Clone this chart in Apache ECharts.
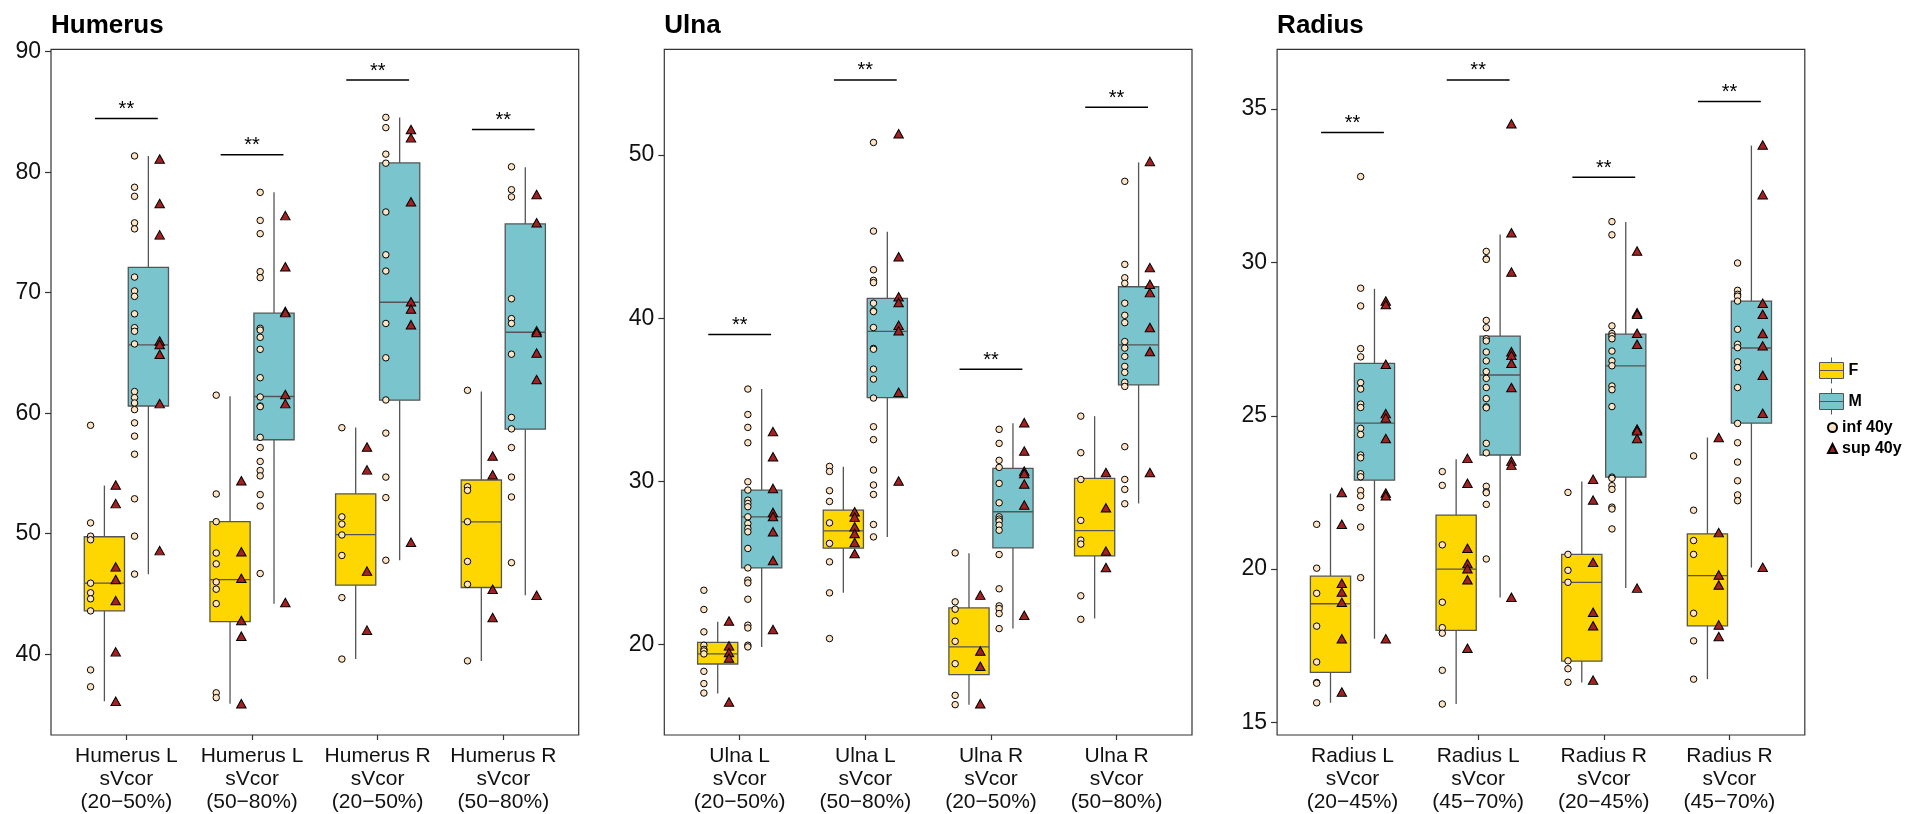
<!DOCTYPE html>
<html><head><meta charset="utf-8">
<script src="https://cdn.jsdelivr.net/npm/echarts@6/dist/echarts.min.js"></script>
<style>html,body{margin:0;padding:0;background:#fff}#c{width:1910px;height:814px}</style>
</head><body><div id="c"></div><script>
// ---------------- DATA ----------------
const humerusCategories = ['Humerus L\nsVcor\n(20−50%)','Humerus L\nsVcor\n(50−80%)','Humerus R\nsVcor\n(20−50%)','Humerus R\nsVcor\n(50−80%)'];
const ulnaCategories = ['Ulna L\nsVcor\n(20−50%)','Ulna L\nsVcor\n(50−80%)','Ulna R\nsVcor\n(20−50%)','Ulna R\nsVcor\n(50−80%)'];
const radiusCategories = ['Radius L\nsVcor\n(20−45%)','Radius L\nsVcor\n(45−70%)','Radius R\nsVcor\n(20−45%)','Radius R\nsVcor\n(45−70%)'];

const humerusTicks = [40,50,60,70,80,90];
const ulnaTicks = [20,30,40,50];
const radiusTicks = [15,20,25,30,35];

// box stats: [lower whisker, Q1, median, Q3, upper whisker]
const humerusBoxF = [[36.1,43.6,45.9,49.75,54.0],[35.9,42.7,46.2,51.0,61.4],[39.6,45.73,49.92,53.31,58.82],[39.45,45.54,50.99,54.46,61.8]];
const humerusBoxM = [[46.64,60.6,65.67,72.11,81.35],[44.2,57.8,61.39,68.3,78.33],[47.8,61.08,69.21,80.77,84.55],[44.9,58.68,66.72,75.71,80.41]];
const humerusInfF = [[59.0,50.9,49.8,49.5,45.9,45.1,44.6,43.6,38.7,37.3],[61.5,53.3,51.0,48.4,47.5,46.0,45.4,44.2,36.8,36.4],[58.8,51.4,50.8,49.9,48.2,44.7,39.6],[61.9,53.9,53.6,51.0,47.7,45.8,39.45]];
const humerusSupF = [[54.05,52.5,47.25,46.2,44.45,40.2,36.1],[54.4,48.5,46.3,42.8,41.5,35.9],[57.2,55.3,46.9,42.0],[56.45,54.9,45.4,43.05]];
const humerusInfM = [[81.35,78.75,78.0,75.8,75.3,71.3,70.15,69.7,68.25,67.1,66.8,65.75,61.8,61.3,60.85,60.3,59.2,58.1,56.6,52.9,49.8,46.65],[78.33,76.0,74.9,71.75,71.25,67.05,66.9,66.3,65.3,62.95,61.35,60.6,60.55,58.0,57.15,56.0,55.25,54.8,53.25,52.3,46.7],[84.55,83.7,81.5,80.75,76.7,73.15,71.8,67.45,64.6,61.1,58.35,54.7,53.0,47.8],[80.45,78.55,77.95,69.5,67.85,67.45,64.9,59.65,58.7,57.15,54.7,53.05,47.6]];
const humerusSupM = [[81.1,77.4,74.8,66.0,65.7,64.9,60.8,48.6],[76.4,72.15,68.45,68.35,61.55,60.8,44.3],[83.55,82.85,77.55,69.25,68.65,67.35,49.3],[78.15,75.8,66.85,66.7,65.0,62.8,44.9]];
const humerusSig = [84.45,81.45,87.65,83.55];

const ulnaBoxF = [[17.0,18.81,19.43,20.14,21.4],[23.17,25.91,26.97,28.24,30.9],[16.32,18.16,19.86,22.25,25.6],[21.6,25.44,26.99,30.18,34.0]];
const ulnaBoxM = [[19.86,24.7,27.83,29.47,35.66],[26.6,35.13,39.19,41.22,45.3],[20.98,25.93,28.14,30.8,33.56],[28.65,35.91,38.37,41.93,49.55]];
const ulnaInfF = [[23.33,22.15,20.78,19.96,19.71,19.61,19.43,18.36,17.61,17.03],[30.92,30.61,29.43,28.77,27.46,26.2,25.07,23.17,20.37],[25.62,22.62,22.17,21.45,20.2,18.83,16.89,16.32],[34.0,31.76,30.12,27.61,26.4,26.16,22.99,21.55]];
const ulnaSupF = [[21.45,19.92,19.51,19.18,16.48],[28.14,27.81,27.22,26.81,26.26,25.58],[23.03,19.61,18.67,16.38],[30.55,28.38,25.73,24.72]];
const ulnaInfM = [[35.66,34.1,33.31,32.37,29.98,29.47,28.85,28.65,28.45,27.83,27.42,27.12,26.91,25.89,24.7,23.95,23.78,22.78,21.19,21.02,19.96,19.86],[50.77,45.34,42.97,42.32,42.18,40.92,40.45,40.41,39.43,38.15,38.1,36.88,36.27,35.11,33.35,32.56,30.7,29.78,29.2,27.36,26.6],[33.19,32.33,31.29,30.86,29.88,28.69,27.83,27.69,27.57,27.32,27.01,25.52,23.42,22.37,22.21,21.9,20.98],[48.39,43.3,42.48,42.14,40.92,40.18,39.73,38.57,38.17,37.66,37.05,36.68,36.07,35.82,32.13,30.12,29.51,28.63]];
const ulnaSupM = [[33.05,31.51,29.57,28.1,27.85,26.91,25.15,20.92],[51.3,43.77,41.32,40.96,39.57,39.23,35.46,30.02],[33.6,31.86,30.63,30.49,29.84,28.55,21.8],[49.61,43.1,42.08,41.57,39.43,37.96,30.55]];
const ulnaSig = [39.0,54.6,36.88,52.93];

const radiusBoxF = [[15.64,16.63,18.87,19.77,22.46],[15.6,18.0,20.0,21.76,23.58],[16.3,17.0,19.57,20.48,22.86],[16.41,18.15,19.79,21.15,24.29]];
const radiusBoxM = [[17.73,22.9,24.76,26.71,29.14],[19.07,23.72,26.33,27.6,30.91],[19.38,23.0,26.63,27.66,31.32],[20.05,24.76,27.21,28.74,33.81]];
const radiusInfF = [[21.46,20.03,19.21,18.14,16.97,16.3,16.28,15.64],[23.18,22.73,20.79,18.92,18.09,17.91,16.7,15.6],[22.5,20.48,19.96,19.57,17.01,16.75,16.31],[23.69,21.92,20.93,20.48,18.56,17.66,16.41]];
const radiusSupF = [[22.5,21.46,19.54,19.25,18.92,17.73,15.99],[23.61,22.8,20.68,20.18,20.01,19.65,17.42],[22.93,22.25,20.22,18.59,18.15,16.38],[24.29,21.19,19.81,19.48,18.18,17.8]];
const radiusInfM = [[32.8,29.16,28.58,27.19,26.92,26.08,25.87,25.38,25.27,24.59,24.39,23.72,23.63,23.11,23.01,22.56,22.39,22.01,21.37,19.72],[30.36,30.12,30.1,28.11,27.87,27.51,27.44,27.08,26.79,26.44,26.22,25.92,25.56,25.29,25.26,24.1,23.79,22.7,22.52,22.49,22.11,20.33],[31.33,30.9,27.93,27.68,27.6,27.51,27.11,26.79,26.63,25.97,25.85,25.3,23.0,22.96,22.72,22.6,22.02,21.96,21.31],[29.98,29.09,28.96,28.9,28.74,27.82,27.33,27.22,26.76,26.57,25.92,24.75,24.12,23.49,22.88,22.42,22.23]];
const radiusSupM = [[28.74,28.63,26.68,25.07,24.93,24.26,22.48,22.39,17.73],[34.52,30.97,29.69,27.09,26.97,26.71,25.92,23.52,23.39,19.08],[30.37,28.36,28.31,27.69,27.33,24.57,24.51,24.26,19.38],[33.83,32.21,28.67,28.31,27.68,27.28,26.32,25.08,20.06]];
const radiusSig = [34.24,35.95,32.78,35.25];

// ---------------- LAYOUT / STYLE ----------------
const FONT = "'Liberation Sans', Arial, Helvetica, sans-serif";
const COL_F = '#FFD700', COL_M = '#7AC5CD', COL_LINE = '#555555';
const COL_INF = '#FFE4C4', COL_SUP = '#A52020';
const DODGE = 0.175, BOX_W = 0.32, OFF_INF = -0.11, OFF_SUP = 0.09, SIG_HALF = 0.25;

const panels = [
  {title:'Humerus', cats:humerusCategories, ticks:humerusTicks, boxF:humerusBoxF, boxM:humerusBoxM, infF:humerusInfF, supF:humerusSupF, infM:humerusInfM, supM:humerusSupM, sig:humerusSig, yMin:33.3, yMax:90.2, left:51.0},
  {title:'Ulna', cats:ulnaCategories, ticks:ulnaTicks, boxF:ulnaBoxF, boxM:ulnaBoxM, infF:ulnaInfF, supF:ulnaSupF, infM:ulnaInfM, supM:ulnaSupM, sig:ulnaSig, yMin:14.46, yMax:56.48, left:664.3},
  {title:'Radius', cats:radiusCategories, ticks:radiusTicks, boxF:radiusBoxF, boxM:radiusBoxM, infF:radiusInfF, supF:radiusSupF, infM:radiusInfM, supM:radiusSupM, sig:radiusSig, yMin:14.59, yMax:36.95, left:1277.1}
];
const GRID_TOP = 49.3, GRID_H = 687.6, GRID_W = 527.7;

function renderBox(params, api) {
  const x = api.value(0);
  const lo = api.coord([x, api.value(1)]), q1 = api.coord([x, api.value(2)]),
        med = api.coord([x, api.value(3)]), q3 = api.coord([x, api.value(4)]),
        hi = api.coord([x, api.value(5)]);
  const hw = api.size([BOX_W, 0])[0] / 2;
  const ls = {stroke: COL_LINE, lineWidth: 1.3};
  return {type:'group', children:[
    {type:'line', shape:{x1:hi[0], y1:hi[1], x2:q3[0], y2:q3[1]}, style:ls},
    {type:'line', shape:{x1:lo[0], y1:lo[1], x2:q1[0], y2:q1[1]}, style:ls},
    {type:'rect', shape:{x:q3[0]-hw, y:q3[1], width:2*hw, height:q1[1]-q3[1]}, style:{fill: api.visual('color'), stroke: COL_LINE, lineWidth:1.3}},
    {type:'line', shape:{x1:med[0]-hw, y1:med[1], x2:med[0]+hw, y2:med[1]}, style:ls}
  ]};
}
function renderSig(params, api) {
  const x = api.value(0), v = api.value(1);
  const a = api.coord([x - SIG_HALF, v]), b = api.coord([x + SIG_HALF, v]);
  return {type:'group', children:[
    {type:'line', shape:{x1:a[0], y1:a[1], x2:b[0], y2:b[1]}, style:{stroke:'#000', lineWidth:1.5}},
    {type:'text', x:(a[0]+b[0])/2, y:a[1]+1, style:{text:'**', fill:'#000', font:"20px "+FONT, align:'center', verticalAlign:'bottom'}}
  ]};
}

const grids = [], xAxes = [], yAxes = [], series = [], titles = [];
panels.forEach((p, k) => {
  grids.push({left:p.left, top:GRID_TOP, width:GRID_W, height:GRID_H, show:true, borderColor:'#333', borderWidth:1.2, backgroundColor:'rgba(0,0,0,0)'});
  titles.push({text:p.title, left:p.left, top:13, padding:0, textStyle:{fontSize:26, fontWeight:'bold', color:'#000', fontFamily:FONT}});
  xAxes.push({gridIndex:k, type:'value', min:0.4, max:4.6,
    axisLine:{show:false}, splitLine:{show:false},
    axisTick:{show:true, customValues:[1,2,3,4], length:5, lineStyle:{color:'#333', width:1.2}},
    axisLabel:{customValues:[1,2,3,4], formatter:(v)=>p.cats[Math.round(v)-1], fontSize:21, lineHeight:23, color:'#111', margin:10, fontFamily:FONT}});
  yAxes.push({gridIndex:k, type:'value', min:p.yMin, max:p.yMax,
    axisLine:{show:false}, splitLine:{show:false},
    axisTick:{show:true, customValues:p.ticks, length:6, lineStyle:{color:'#333', width:1.2}},
    axisLabel:{customValues:p.ticks, fontSize:23, color:'#111', margin:10, fontFamily:FONT}});
  series.push({type:'custom', name:'F', xAxisIndex:k, yAxisIndex:k, renderItem:renderBox,
    itemStyle:{color:COL_F, borderColor:COL_LINE, borderWidth:1},
    encode:{x:0, y:[1,2,3,4,5]}, data:p.boxF.map((b,i)=>[i+1-DODGE].concat(b)), z:1});
  series.push({type:'custom', name:'M', xAxisIndex:k, yAxisIndex:k, renderItem:renderBox,
    itemStyle:{color:COL_M, borderColor:COL_LINE, borderWidth:1},
    encode:{x:0, y:[1,2,3,4,5]}, data:p.boxM.map((b,i)=>[i+1+DODGE].concat(b)), z:1});
  const inf = [], sup = [];
  p.infF.forEach((vals,i)=>vals.forEach(v=>inf.push([i+1-DODGE+OFF_INF, v])));
  p.infM.forEach((vals,i)=>vals.forEach(v=>inf.push([i+1+DODGE+OFF_INF, v])));
  p.supF.forEach((vals,i)=>vals.forEach(v=>sup.push([i+1-DODGE+OFF_SUP, v])));
  p.supM.forEach((vals,i)=>vals.forEach(v=>sup.push([i+1+DODGE+OFF_SUP, v])));
  series.push({type:'scatter', name:'inf 40y', xAxisIndex:k, yAxisIndex:k, symbol:'circle', symbolSize:6.5,
    itemStyle:{color:COL_INF, borderColor:'#000', borderWidth:1, opacity:1}, data:inf, z:3});
  series.push({type:'scatter', name:'sup 40y', xAxisIndex:k, yAxisIndex:k, symbol:'triangle', symbolSize:[9.5,8.5],
    itemStyle:{color:COL_SUP, borderColor:'#000', borderWidth:1, opacity:1}, data:sup, z:3});
  series.push({type:'custom', name:'sig', xAxisIndex:k, yAxisIndex:k, renderItem:renderSig,
    encode:{x:0, y:1}, data:p.sig.map((v,i)=>[i+1, v]), z:4});
});

const boxIcon = 'path://M12,0L12,5M0,5L24,5L24,21L0,21ZM0,13L24,13M12,21L12,26';
const chart = echarts.init(document.getElementById('c'), null, {renderer:'canvas'});
chart.setOption({
  animation:false,
  backgroundColor:'#fff',
  title:titles,
  grid:grids, xAxis:xAxes, yAxis:yAxes,
  legend:[
    {orient:'vertical', left:1819, top:357, itemWidth:24, itemHeight:26, itemGap:4, padding:0, selectedMode:false,
     textStyle:{fontSize:16, fontWeight:'bold', color:'#000', fontFamily:FONT},
     data:[{name:'F', icon:boxIcon, itemStyle:{color:COL_F, borderColor:COL_LINE, borderWidth:1}},
           {name:'M', icon:boxIcon, itemStyle:{color:COL_M, borderColor:COL_LINE, borderWidth:1}}]},
    {orient:'vertical', left:1827, top:419, itemWidth:9, itemHeight:9, itemGap:4, padding:0, selectedMode:false,
     textStyle:{fontSize:16, fontWeight:'bold', color:'#000', fontFamily:FONT, lineHeight:17},
     data:[{name:'inf 40y', icon:'circle'}, {name:'sup 40y', icon:'triangle'}]}
  ],
  series:series
});
</script></body></html>
